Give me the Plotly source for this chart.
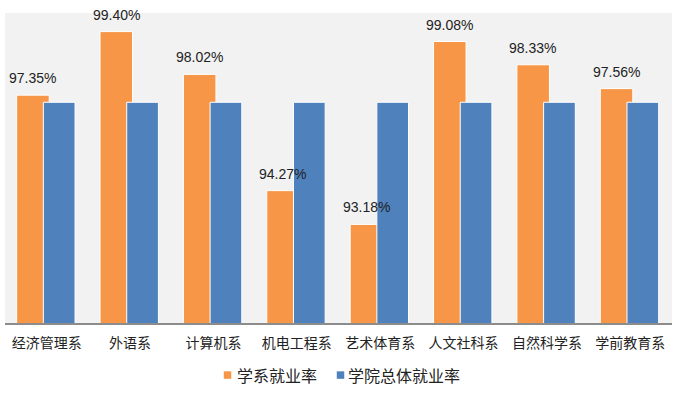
import plotly.graph_objects as go

categories = ["经济管理系", "外语系", "计算机系", "机电工程系", "艺术体育系", "人文社科系", "自然科学系", "学前教育系"]
dept_rate = [97.35, 99.40, 98.02, 94.27, 93.18, 99.08, 98.33, 97.56]
college_rate = [97.12] * 8
series_names = ["学系就业率", "学院总体就业率"]
colors = ["#F79646", "#4F81BD"]

fig = go.Figure()
fig.add_trace(go.Bar(x=categories, y=dept_rate, name=series_names[0],
                     marker=dict(color=colors[0], line=dict(color="white", width=1)),
                     offset=-0.36, width=0.39, showlegend=False, hoverinfo="skip"))
fig.add_trace(go.Bar(x=categories, y=college_rate, name=series_names[1],
                     marker=dict(color=colors[1], line=dict(color="white", width=1)),
                     offset=-0.04, width=0.38, showlegend=False, hoverinfo="skip"))

for cat, v in zip(categories, dept_rate):
    fig.add_annotation(x=cat, y=v, text=f"{v:.2f}%", showarrow=False,
                       xshift=-14, yshift=7, yanchor="bottom",
                       font=dict(family="Liberation Sans", size=14, color="#222"))

# manual legend (paper coordinates)
legend_y = -0.168
legend_sq_x = [0.3336, 0.503]
legend_txt_x = [0.3450, 0.5115]
for name, c, sx, tx in zip(series_names, colors, legend_sq_x, legend_txt_x):
    fig.add_shape(type="rect", xref="paper", yref="paper",
                  x0=sx - 0.0056, x1=sx + 0.0056, y0=legend_y - 0.0121, y1=legend_y + 0.0121,
                  fillcolor=c, line=dict(width=0))
    fig.add_annotation(xref="paper", yref="paper", x=tx, y=legend_y, text=name,
                       showarrow=False, xanchor="left", yanchor="middle",
                       font=dict(family="Noto Sans CJK SC", size=16, color="#222"))

fig.update_layout(
    width=674, height=395,
    margin=dict(l=5, r=2, t=13, b=72, autoexpand=False),
    paper_bgcolor="white", plot_bgcolor="#F2F2F2",
    barmode="overlay", showlegend=False,
    font=dict(family="Noto Sans CJK SC", size=14, color="#222"),
)
fig.update_xaxes(showline=True, linecolor="#8C8C8C", linewidth=1.5, showgrid=False,
                 ticks="", tickfont=dict(size=14), ticklabelstandoff=6)
fig.update_yaxes(range=[90, 100], visible=False, showgrid=False)

fig.write_html("out.html", config={"displayModeBar": False},
               post_script="document.body.style.margin='0';document.body.style.overflow='hidden';")
